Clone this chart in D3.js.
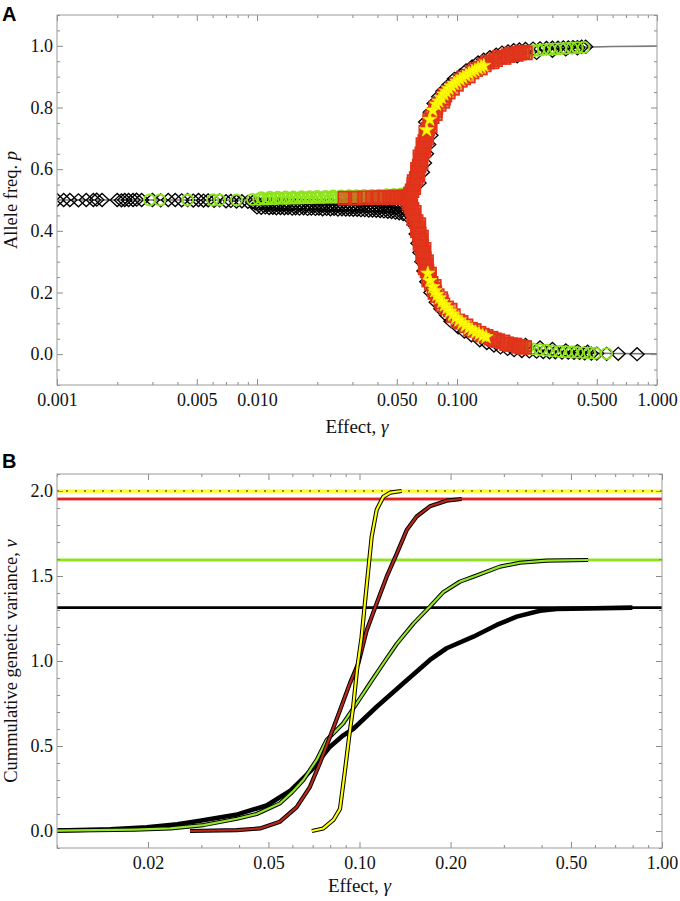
<!DOCTYPE html>
<html><head><meta charset="utf-8">
<script src="https://cdn.jsdelivr.net/npm/d3@7"></script>
<style>
body{margin:0;background:#fff}
svg{display:block}
</style></head><body>
<svg id="c" width="680" height="901"></svg>
<script>
// ---------------- DATA: Panel A (effect gamma, allele frequency p) ----------------
const theoryMid = [[0.001,0.5],[0.058,0.5]];
const theoryUpper = [[0.058,0.50],[0.0605,0.545],[0.0629,0.575],[0.0666,0.651],[0.0719,0.737],[0.0822,0.813],[0.0997,0.878],[0.130,0.932],[0.174,0.966],[0.224,0.980],[0.30,0.990],[0.40,0.995],[0.60,0.998],[1.00,0.999]];
const theoryLower = [[0.058,0.50],[0.0605,0.455],[0.0629,0.425],[0.0666,0.349],[0.0705,0.272],[0.0791,0.190],[0.0959,0.121],[0.1255,0.067],[0.1706,0.035],[0.224,0.020],[0.30,0.010],[0.40,0.005],[0.60,0.002],[1.00,0.001]];

const blackPts = [
[0.00100,0.500],[0.00108,0.500],[0.00116,0.500],[0.00128,0.499],[0.00140,0.500],[0.00152,0.500],[0.00158,0.501],[0.00168,0.500],[0.00200,0.500],[0.00210,0.499],[0.00218,0.500],[0.00228,0.500],[0.00240,0.500],[0.00250,0.501],[0.00265,0.500],[0.00300,0.500],[0.00330,0.499],[0.00360,0.500],[0.00390,0.500],[0.00420,0.499],[0.00450,0.500],[0.00480,0.498],[0.00510,0.500],[0.00540,0.498],[0.00570,0.499],[0.00610,0.497],[0.00650,0.499],[0.00700,0.496],[0.00740,0.497],[0.00790,0.495],[0.00840,0.496],[0.00900,0.494],[0.00950,0.493],
[0.0098,0.489],[0.0102,0.488],[0.0107,0.489],[0.0112,0.487],[0.0117,0.488],[0.0122,0.486],[0.0128,0.487],[0.0134,0.486],[0.0140,0.487],[0.0146,0.485],[0.0153,0.486],[0.0160,0.485],[0.0167,0.486],[0.0175,0.484],[0.0183,0.485],[0.0191,0.484],[0.0200,0.485],[0.0209,0.483],[0.0218,0.484],[0.0228,0.483],[0.0238,0.484],[0.0249,0.482],[0.0260,0.483],[0.0272,0.482],[0.0284,0.483],[0.0297,0.481],[0.0310,0.482],[0.0324,0.481],[0.0339,0.481],[0.0354,0.480],[0.0370,0.480],[0.0387,0.479],[0.0404,0.479],[0.0422,0.478],[0.0441,0.477],[0.0461,0.476],[0.0482,0.475],[0.0503,0.473],[0.0526,0.471],[0.0550,0.468],
[0.0100,0.476],[0.0105,0.475],[0.0110,0.476],[0.0115,0.474],[0.0120,0.475],[0.0125,0.473],[0.0131,0.474],[0.0137,0.473],[0.0143,0.474],[0.0150,0.472],[0.0156,0.473],[0.0163,0.472],[0.0171,0.473],[0.0179,0.471],[0.0187,0.472],[0.0196,0.471],[0.0204,0.472],[0.0213,0.470],[0.0223,0.471],[0.0233,0.470],[0.0243,0.471],[0.0254,0.469],[0.0266,0.470],[0.0278,0.469],[0.0290,0.469],[0.0303,0.468],[0.0317,0.468],[0.0331,0.467],[0.0346,0.467],[0.0362,0.466],[0.0378,0.466],[0.0395,0.465],[0.0413,0.464],[0.0431,0.463],[0.0451,0.462],[0.0471,0.461],[0.0492,0.459],[0.0514,0.457],[0.0538,0.454],[0.0560,0.450],
[0.0646,0.555],[0.0672,0.590],[0.0688,0.620],[0.0704,0.650],[0.0722,0.680],[0.0741,0.710],
[0.0697,0.753],[0.0735,0.785],[0.0768,0.813],[0.0810,0.835],[0.0850,0.853],[0.0910,0.873],[0.0971,0.893],[0.1040,0.905],[0.1110,0.920],[0.1190,0.933],[0.1275,0.946],[0.1360,0.955],[0.1460,0.963],[0.1570,0.971],[0.1680,0.978],[0.1800,0.982],[0.1920,0.986],[0.2050,0.988],[0.2200,0.990],[0.2400,0.991],[0.2600,0.992],[0.2800,0.993],[0.3000,0.994],[0.3200,0.994],[0.3400,0.995],[0.3600,0.995],[0.3800,0.996],[0.4000,0.996],[0.4200,0.997],[0.4400,0.997],
[0.2000,0.966],[0.2500,0.977],[0.3000,0.984],[0.3500,0.989],[0.4000,0.992],
[0.0585,0.450],[0.0610,0.420],[0.0625,0.390],[0.0638,0.360],[0.0652,0.330],[0.0667,0.300],[0.0683,0.270],[0.0706,0.235],[0.0740,0.200],[0.0787,0.168],[0.0830,0.147],[0.0884,0.127],[0.0932,0.107],[0.1014,0.087],[0.1090,0.073],[0.1180,0.061],[0.1300,0.045],[0.1410,0.036],[0.1530,0.028],[0.1650,0.022],[0.1790,0.017],[0.1930,0.013],[0.2110,0.010],
[0.230,0.009],[0.250,0.008],[0.270,0.007],[0.290,0.006],[0.310,0.006],[0.335,0.005],[0.360,0.005],[0.385,0.004],[0.410,0.004],[0.435,0.003],[0.470,0.002],[0.500,0.002],[0.560,0.001],[0.640,0.001],[0.795,0.000],
[0.220,0.030],[0.260,0.022],[0.300,0.017],[0.350,0.012],[0.400,0.010],[0.450,0.008]
];

const greenPts = [
[0.00290,0.500],[0.00327,0.500],[0.00450,0.500],[0.00600,0.500],[0.00650,0.500],[0.00790,0.500],[0.00950,0.502],[0.01020,0.502],[0.01080,0.503],[0.01130,0.503],[0.01180,0.504],[0.0124,0.504],[0.0130,0.505],[0.0136,0.505],[0.0142,0.505],[0.0149,0.506],[0.0156,0.506],[0.0163,0.506],[0.0171,0.507],[0.0179,0.507],[0.0187,0.507],[0.0196,0.508],[0.0205,0.508],[0.0215,0.508],[0.0225,0.509],[0.0235,0.509],[0.0246,0.509],[0.0257,0.510],[0.0269,0.510],[0.0281,0.510],[0.0294,0.511],[0.0307,0.511],[0.0321,0.511],[0.0335,0.512],[0.0350,0.512],[0.0366,0.512],[0.0382,0.513],[0.0399,0.513],[0.0417,0.513],[0.0435,0.514],[0.0454,0.514],[0.0474,0.514],[0.0494,0.515],[0.0515,0.516],[0.0537,0.518],
[0.0105,0.508],[0.0116,0.509],[0.0127,0.509],[0.0139,0.510],[0.0152,0.510],[0.0167,0.511],[0.0183,0.511],[0.0200,0.512],[0.0220,0.512],[0.0240,0.513],[0.0263,0.513],[0.0288,0.514],[0.0314,0.514],[0.0343,0.515],[0.0374,0.515],[0.0408,0.516],[0.0445,0.517],[0.0484,0.518],[0.0526,0.520],
[0.150,0.955],[0.165,0.963],[0.180,0.970],[0.195,0.975],[0.210,0.979],[0.225,0.982],[0.240,0.984],[0.255,0.986],[0.270,0.988],[0.290,0.989],[0.310,0.990],[0.330,0.991],[0.350,0.992],[0.375,0.993],[0.400,0.994],[0.430,0.995],
[0.150,0.042],[0.165,0.036],[0.180,0.031],[0.195,0.027],[0.210,0.023],[0.225,0.020],[0.240,0.017],[0.260,0.015],[0.280,0.013],[0.300,0.011],[0.325,0.009],[0.350,0.008],[0.375,0.007],[0.400,0.006],[0.430,0.005],[0.460,0.004],[0.490,0.003],[0.560,0.002]
];

const redPts = [
[0.0275,0.506],[0.0310,0.506],[0.0345,0.507],[0.0378,0.507],[0.0408,0.508],[0.0435,0.508],[0.0460,0.509],[0.0480,0.509],
[0.0495,0.510],[0.0520,0.508],[0.0545,0.510],[0.0565,0.505],[0.0580,0.500],[0.0575,0.512],[0.0575,0.490],
[0.0585,0.520],[0.0608,0.540],[0.0610,0.560],[0.0638,0.580],[0.0634,0.600],[0.0662,0.620],[0.0652,0.640],[0.0683,0.660],[0.0675,0.680],[0.0706,0.700],[0.0698,0.720],[0.0735,0.740],[0.0730,0.760],[0.0780,0.780],[0.0785,0.800],[0.0850,0.820],[0.0870,0.840],[0.0950,0.862],[0.0995,0.875],[0.1080,0.896],[0.1140,0.902],[0.1240,0.923],[0.1310,0.928],[0.1420,0.947],[0.1500,0.948],[0.1630,0.963],[0.1720,0.962],[0.1870,0.974],[0.1980,0.972],[0.2130,0.980],[0.2200,0.977],
[0.0596,0.530],[0.0608,0.550],[0.0625,0.570],[0.0637,0.590],[0.0647,0.610],[0.0657,0.630],[0.0667,0.650],[0.0678,0.670],[0.0690,0.690],[0.0702,0.710],[0.0715,0.730],[0.0731,0.750],[0.0752,0.770],[0.0780,0.790],[0.0815,0.810],[0.0857,0.830],[0.0905,0.850],
[0.1040,0.888],[0.1190,0.915],[0.1370,0.938],[0.1560,0.955],[0.1800,0.968],[0.2050,0.976],
[0.0588,0.480],[0.0612,0.460],[0.0608,0.440],[0.0645,0.420],[0.0634,0.400],[0.0665,0.380],[0.0652,0.360],[0.0685,0.340],[0.0673,0.320],[0.0705,0.300],[0.0693,0.280],[0.0730,0.260],[0.0722,0.240],[0.0770,0.220],[0.0775,0.200],[0.0830,0.180],[0.0850,0.160],[0.0925,0.143],[0.0960,0.125],[0.1050,0.103],[0.1110,0.092],[0.1220,0.077],[0.1290,0.068],[0.1400,0.058],[0.1480,0.052],[0.1600,0.044],[0.1700,0.040],[0.1850,0.031],[0.1950,0.030],[0.2100,0.023],[0.2180,0.022],
[0.0596,0.470],[0.0608,0.450],[0.0625,0.430],[0.0638,0.410],[0.0648,0.390],[0.0657,0.370],[0.0666,0.350],[0.0677,0.330],[0.0687,0.310],[0.0697,0.290],[0.0708,0.270],[0.0723,0.250],[0.0743,0.230],[0.0767,0.210],[0.0797,0.190],[0.0837,0.170],[0.0887,0.150],
[0.1010,0.108],[0.1170,0.081],[0.1340,0.062],[0.1540,0.047],[0.1770,0.034],[0.2030,0.025]
];

const yellowPts = [
[0.0705,0.727],[0.0730,0.761],[0.0756,0.791],[0.0790,0.810],[0.0810,0.820],[0.0835,0.832],[0.0860,0.843],[0.0885,0.852],[0.0910,0.861],[0.0940,0.869],[0.0970,0.877],[0.1000,0.884],[0.1035,0.891],[0.1070,0.897],[0.1110,0.904],[0.1150,0.910],[0.1190,0.916],[0.1230,0.921],[0.1275,0.927],[0.1320,0.932],[0.1360,0.936],
[0.0715,0.262],[0.0732,0.238],[0.0756,0.218],[0.0775,0.205],[0.0795,0.193],[0.0815,0.182],[0.0840,0.170],[0.0865,0.159],[0.0890,0.149],[0.0920,0.139],[0.0950,0.129],[0.0985,0.119],[0.1020,0.110],[0.1060,0.101],[0.1100,0.093],[0.1145,0.085],[0.1190,0.078],[0.1240,0.071],[0.1290,0.066],[0.1345,0.060],[0.1398,0.056]
];

// ---------------- DATA: Panel B (effect gamma, cumulative genetic variance v) ----------------
const curveBlack = [[0.001,0],[0.006,0.001],[0.010,0.003],[0.0150,0.010],[0.0198,0.022],[0.0250,0.040],[0.0297,0.060],[0.0390,0.095],[0.0493,0.150],[0.0589,0.235],[0.0695,0.360],[0.0799,0.496],[0.0880,0.560],[0.0953,0.600],[0.114,0.731],[0.1396,0.869],[0.1709,1.006],[0.1941,1.075],[0.2378,1.143],[0.2842,1.212],[0.331,1.261],[0.395,1.296],[0.449,1.306],[0.798,1.314]];
const curveGreen = [[0.0035,0],[0.010,0.002],[0.0180,0.008],[0.0237,0.015],[0.0305,0.035],[0.0393,0.072],[0.0457,0.100],[0.0546,0.163],[0.0600,0.230],[0.0652,0.300],[0.0722,0.418],[0.0779,0.535],[0.0820,0.575],[0.0884,0.634],[0.0979,0.751],[0.1083,0.869],[0.1199,0.986],[0.1327,1.100],[0.1507,1.220],[0.1709,1.320],[0.1892,1.405],[0.2148,1.467],[0.2378,1.496],[0.2914,1.555],[0.3393,1.578],[0.4159,1.590],[0.570,1.594]];
const curveRed = [[0.02753,0],[0.0393,0.005],[0.0469,0.015],[0.0546,0.055],[0.0620,0.140],[0.0686,0.260],[0.0740,0.400],[0.0799,0.555],[0.0862,0.710],[0.0930,0.870],[0.0991,0.986],[0.1056,1.180],[0.1140,1.340],[0.1230,1.496],[0.1327,1.630],[0.1432,1.770],[0.1545,1.850],[0.1709,1.910],[0.1941,1.943],[0.2177,1.953]];
const curveYellow = [[0.0696,0],[0.0759,0.015],[0.0820,0.065],[0.0862,0.130],[0.0896,0.360],[0.0925,0.560],[0.0953,0.730],[0.0981,0.947],[0.1016,1.140],[0.1042,1.340],[0.1069,1.535],[0.1097,1.730],[0.1140,1.890],[0.1199,1.966],[0.1262,1.990],[0.1378,2.000]];
const totals = {yellow:2.000, red:1.953, green:1.594, black:1.314};

// tick values
const xMajorA = [0.001,0.005,0.01,0.05,0.1,0.5,1];
const yMajorA = [0,0.2,0.4,0.6,0.8,1.0];
const xMajorB = [0.02,0.05,0.1,0.2,0.5,1];
const yMajorB = [0,0.5,1.0,1.5,2.0];

// ---------------- DRAWING ----------------
const svg = d3.select("#c");
svg.append("rect").attr("width",680).attr("height",901).attr("fill","#fff");
const SERIF = "'Liberation Serif','Times New Roman',Times,serif";

function logMinors(lo, hi, majors){
  const out=[];
  for(let e=Math.floor(Math.log10(lo)); e<=Math.ceil(Math.log10(hi)); e++){
    for(let k=1;k<10;k++){ const v=+(k*Math.pow(10,e)).toPrecision(6); if(v>=lo-1e-12 && v<=hi+1e-12 && !majors.some(m=>Math.abs(m-v)<1e-9)) out.push(v);} }
  return out;
}
function linMinors(lo, hi, step, majors){
  return d3.range(Math.round(lo/step), Math.round(hi/step)+1).map(i=>+(i*step).toFixed(4)).filter(v=>!majors.some(m=>Math.abs(m-v)<1e-9));
}

function drawFrame(P, x, y, xMaj, xMin, yMaj, yMin, fx, fy){
  const g = svg.append("g");
  g.append("g").attr("transform",`translate(0,${P.b})`).call(d3.axisBottom(x).tickValues(xMaj).tickSize(-6).tickPadding(8).tickFormat(fx));
  g.append("g").attr("transform",`translate(0,${P.b})`).call(d3.axisBottom(x).tickValues(xMin).tickSize(-3).tickFormat(""));
  g.append("g").attr("transform",`translate(0,${P.t})`).call(d3.axisTop(x).tickValues(xMaj).tickSize(-6).tickFormat(""));
  g.append("g").attr("transform",`translate(0,${P.t})`).call(d3.axisTop(x).tickValues(xMin).tickSize(-3).tickFormat(""));
  g.append("g").attr("transform",`translate(${P.l},0)`).call(d3.axisLeft(y).tickValues(yMaj).tickSize(-6).tickPadding(4).tickFormat(fy));
  g.append("g").attr("transform",`translate(${P.l},0)`).call(d3.axisLeft(y).tickValues(yMin).tickSize(-3).tickFormat(""));
  g.append("g").attr("transform",`translate(${P.r},0)`).call(d3.axisRight(y).tickValues(yMaj).tickSize(-6).tickFormat(""));
  g.append("g").attr("transform",`translate(${P.r},0)`).call(d3.axisRight(y).tickValues(yMin).tickSize(-3).tickFormat(""));
  g.selectAll(".domain").remove();
  g.selectAll(".tick line").attr("stroke","#8a8a8a").attr("stroke-width",1);
  g.selectAll(".tick text").attr("font-family",SERIF).attr("font-size",18).attr("fill","#111");
  svg.append("rect").attr("x",P.l).attr("y",P.t).attr("width",P.r-P.l).attr("height",P.b-P.t)
     .attr("fill","none").attr("stroke","#9a9a9a").attr("stroke-width",1);
}

// ----- Panel A -----
const PA = {l:57, r:657, t:15, b:385};
const xA = d3.scaleLog().domain([0.001,1]).range([PA.l,PA.r]);
const yA = d3.scaleLinear().domain([-0.1,1.1]).range([PA.b,PA.t]);
svg.append("clipPath").attr("id","clipA").append("rect").attr("x",PA.l).attr("y",PA.t).attr("width",PA.r-PA.l).attr("height",PA.b-PA.t);
const gA = svg.append("g").attr("clip-path","url(#clipA)");
const lineA = d3.line().x(d=>xA(d[0])).y(d=>yA(d[1]));
[theoryMid, theoryUpper, theoryLower].forEach(t=>{
  gA.append("path").attr("d",lineA(t)).attr("fill","none").attr("stroke","#7a7a7a").attr("stroke-width",1.6);
});
// black diamonds
gA.append("g").selectAll("path").data(blackPts).join("path")
  .attr("d",d=>{const cx=xA(d[0]), cy=yA(d[1]); return `M${cx-7},${cy}L${cx},${cy-6.5}L${cx+7},${cy}L${cx},${cy+6.5}Z`;})
  .attr("fill","none").attr("stroke","#000").attr("stroke-width",1.35);
// green circles
gA.append("g").selectAll("circle").data(greenPts).join("circle")
  .attr("cx",d=>xA(d[0])).attr("cy",d=>yA(d[1])).attr("r",5.5)
  .attr("fill","none").attr("stroke","#8fe31c").attr("stroke-width",1.8);
// red squares
gA.append("g").selectAll("rect").data(redPts).join("rect")
  .attr("x",d=>xA(d[0])-6.5).attr("y",d=>yA(d[1])-6.5).attr("width",13).attr("height",13)
  .attr("fill","#e2361c").attr("fill-opacity",0.6).attr("stroke","#e0321a").attr("stroke-width",1.6);
// yellow stars
const star = d3.symbol().type(d3.symbolStar).size(62);
gA.append("g").selectAll("path").data(yellowPts).join("path")
  .attr("transform",d=>`translate(${xA(d[0])},${yA(d[1])})`).attr("d",star())
  .attr("fill","#ffff00").attr("stroke","#f4ea00").attr("stroke-width",0.8);

drawFrame(PA, xA, yA, xMajorA, logMinors(0.001,1,xMajorA), yMajorA, linMinors(-0.1,1.1,0.05,yMajorA), d3.format(".3f"), d3.format(".1f"));

// ----- Panel B -----
const PB = {l:57, r:662, t:474, b:848};
const xB = d3.scaleLog().domain([0.01,1]).range([PB.l,PB.r]);
const yB = d3.scaleLinear().domain([-0.1,2.1]).range([PB.b,PB.t]);
svg.append("clipPath").attr("id","clipB").append("rect").attr("x",PB.l).attr("y",PB.t).attr("width",PB.r-PB.l).attr("height",PB.b-PB.t);
const gB = svg.append("g").attr("clip-path","url(#clipB)");
function hline(v, color, w){
  gB.append("line").attr("x1",PB.l).attr("x2",PB.r).attr("y1",yB(v)).attr("y2",yB(v)).attr("stroke",color).attr("stroke-width",w);
}
hline(totals.yellow, "#ffff20", 3.5);
gB.append("line").attr("x1",PB.l).attr("x2",PB.r).attr("y1",yB(totals.yellow)).attr("y2",yB(totals.yellow))
  .attr("stroke","#000").attr("stroke-width",0.9).attr("stroke-dasharray","2,7");
hline(totals.red, "#f08080", 3.5);
hline(totals.red, "#e21f1f", 1.8);
hline(totals.green, "#b6f070", 3.5);
hline(totals.green, "#8ee020", 1.8);
hline(totals.black, "#000", 2.6);

const lineB = d3.line().x(d=>xB(d[0])).y(d=>yB(d[1]));
gB.append("path").attr("d",lineB(curveBlack)).attr("fill","none").attr("stroke","#000").attr("stroke-width",4.6).attr("stroke-linejoin","round");
[[curveGreen,"#95e629"],[curveRed,"#b8281a"],[curveYellow,"#ffff00"]].forEach(([c,col])=>{
  gB.append("path").attr("d",lineB(c)).attr("fill","none").attr("stroke","#000").attr("stroke-width",4.2).attr("stroke-linejoin","round");
  gB.append("path").attr("d",lineB(c)).attr("fill","none").attr("stroke",col).attr("stroke-width",2.2).attr("stroke-linejoin","round");
});

drawFrame(PB, xB, yB, xMajorB, logMinors(0.01,1,xMajorB), yMajorB, linMinors(-0.1,2.1,0.1,yMajorB), d3.format(".2f"), d3.format(".1f"));

// ----- Titles -----
function xTitle(cx, y){
  const t = svg.append("text").attr("x",cx).attr("y",y).attr("text-anchor","middle").attr("font-family",SERIF).attr("font-size",19).attr("fill","#111");
  t.append("tspan").text("Effect, ");
  t.append("tspan").attr("font-style","italic").text("γ");
}
function yTitle(cy, main, sym){
  const t = svg.append("text").attr("transform",`translate(17,${cy}) rotate(-90)`).attr("text-anchor","middle").attr("font-family",SERIF).attr("font-size",18.5).attr("fill","#111");
  t.append("tspan").text(main);
  t.append("tspan").attr("font-style","italic").text(sym);
}
xTitle((PA.l+PA.r)/2, 433);
xTitle((PB.l+PB.r)/2, 892);
yTitle((PA.t+PA.b)/2, "Allele freq. ", "p");
yTitle((PB.t+PB.b)/2, "Cummulative genetic variance, ", "ν");

svg.append("text").attr("x",2).attr("y",21).attr("font-family","'Liberation Sans',Arial,sans-serif").attr("font-weight","bold").attr("font-size",20).text("A");
svg.append("text").attr("x",2).attr("y",468).attr("font-family","'Liberation Sans',Arial,sans-serif").attr("font-weight","bold").attr("font-size",20).text("B");
</script>
</body></html>
